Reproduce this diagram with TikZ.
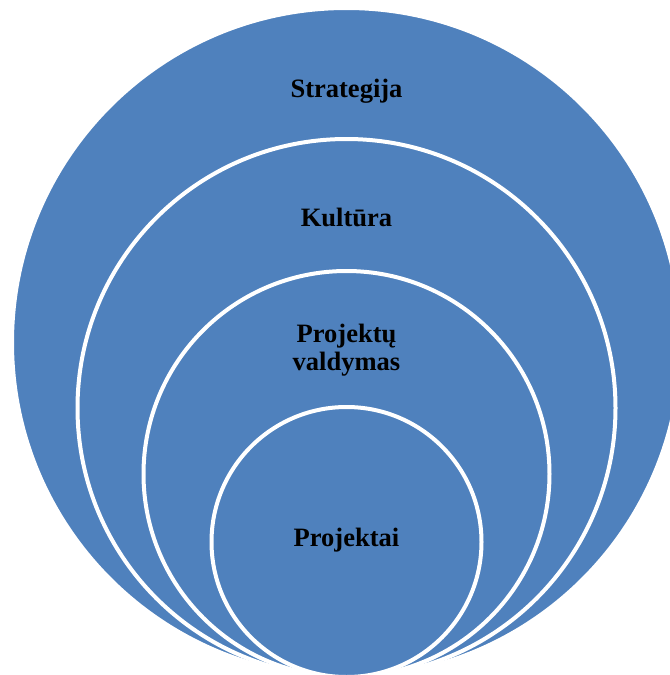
\documentclass[tikz,border=0pt]{standalone}
\usepackage{fontspec}
\setmainfont{Liberation Serif}
\definecolor{ringblue}{HTML}{4F81BD}
\begin{document}
\begin{tikzpicture}[x=0.75pt,y=-0.75pt,
  ring/.style={circle, fill=ringblue, draw=white, line width=3pt, inner sep=0pt, outer sep=0pt},
  ringtext/.style={font=\fontsize{19.9}{21}\selectfont\bfseries, text=black, align=center, anchor=base, inner sep=0pt}]
\useasboundingbox (0,0) rectangle (670,675);
\clip (0,0) rectangle (670,675);
\fill[white] (0,0) rectangle (670,675);
% nested circles, all touching at the bottom
\node[ring, minimum size=501.75pt] (strategy) at (346.5,342.5) {};
\node[ring, minimum size=403.5pt] (culture) at (346.5,408) {};
\node[ring, minimum size=304.5pt] (management) at (346.5,474) {};
\node[ring, minimum size=202.5pt] (projects) at (346.5,542) {};
% labels (base anchor of a two-line node sits on its last line)
\node[ringtext] (tStrategy) at (346.5,97) {Strategija};
\node[ringtext] (tCulture) at (346.5,226.5) {Kultūra};
\node[ringtext] (tManagement) at (346.5,370) {Projektų\\valdymas};
\node[ringtext] (tProjects) at (346.5,546) {Projektai};
\end{tikzpicture}
\end{document}
